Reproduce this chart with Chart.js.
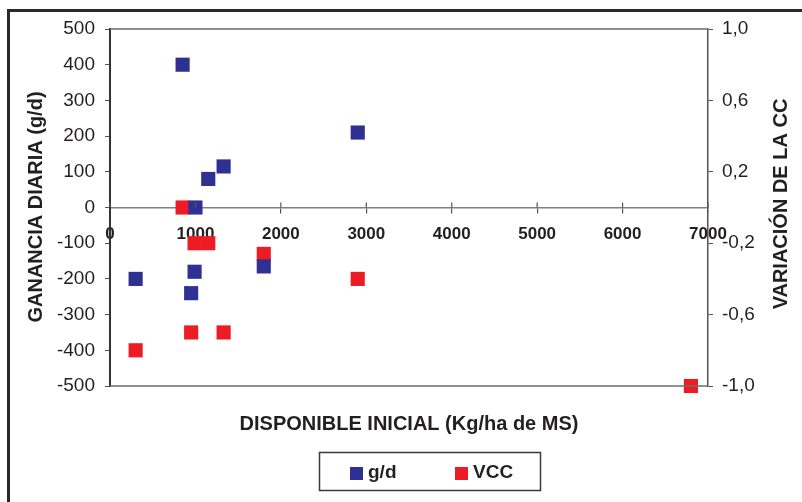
<!DOCTYPE html>
<html>
<head>
<meta charset="utf-8">
<script src="https://cdn.jsdelivr.net/npm/chart.js@4/dist/chart.umd.min.js"></script>
<style>
  html, body { margin: 0; padding: 0; background: #fff; }
  canvas { display: block; }
</style>
</head>
<body>
<canvas id="grafico" width="802" height="502"></canvas>
<script>
// datos: disponible inicial (kg/ha MS) vs ganancia diaria y variación de CC
const gdX = [850, 1000, 1150, 1330, 2900, 300, 990, 950, 1800];
const gdY = [400, 0, 80, 115, 210, -200, -180, -240, -165];
const vccX = [850, 990, 1150, 1800, 2900, 300, 950, 1330, 6800];
const vccY = [0, -0.2, -0.2, -0.26, -0.4, -0.8, -0.7, -0.7, -1.0];
const seriesLabels = ['g/d', 'VCC'];

const AZUL = '#2e3192';
const ROJO = '#ed1c24';
const TEXTO = '#231f20';
const FUENTE = '"Liberation Sans", Arial, sans-serif';

Chart.defaults.font.family = FUENTE;
Chart.defaults.color = TEXTO;

function toPoints(xs, ys) {
    return xs.map((x, i) => ({ x: x, y: ys[i] }));
}

// marco, bordes del área, títulos de ejes y leyenda
const decoraciones = {
    id: 'decoraciones',
    beforeDraw(chart) {
        const ctx = chart.ctx;
        ctx.save();
        ctx.strokeStyle = '#2a2a2a';
        ctx.lineWidth = 3;
        ctx.strokeRect(8.5, 10.5, 900, 600);
        ctx.restore();
    },
    afterDraw(chart) {
        const ctx = chart.ctx;
        const a = chart.chartArea;
        const xs = chart.scales.x;
        const y0 = chart.scales.y.getPixelForValue(0);
        ctx.save();

        // líneas superior e inferior del área
        ctx.strokeStyle = '#6d6d6d';
        ctx.lineWidth = 1.5;
        ctx.beginPath();
        ctx.moveTo(a.left, a.top);
        ctx.lineTo(a.right, a.top);
        ctx.moveTo(a.left, a.bottom);
        ctx.lineTo(a.right, a.bottom);
        ctx.stroke();

        // marcas del eje x hacia arriba
        ctx.strokeStyle = '#555';
        ctx.lineWidth = 1.2;
        ctx.beginPath();
        xs.ticks.forEach(t => {
            const px = xs.getPixelForValue(t.value);
            ctx.moveTo(px, y0);
            ctx.lineTo(px, y0 - 5);
        });
        ctx.stroke();

        // títulos de ejes
        ctx.fillStyle = TEXTO;
        ctx.font = 'bold 20px ' + FUENTE;
        ctx.textAlign = 'center';
        ctx.textBaseline = 'middle';
        ctx.fillText('DISPONIBLE INICIAL (Kg/ha de MS)', 409, 424);

        ctx.save();
        ctx.translate(36, 207);
        ctx.rotate(-Math.PI / 2);
        ctx.fillText('GANANCIA DIARIA (g/d)', 0, 0);
        ctx.restore();

        ctx.save();
        ctx.translate(781, 204);
        ctx.rotate(-Math.PI / 2);
        ctx.fillText('VARIACIÓN DE LA CC', 0, 0);
        ctx.restore();

        // leyenda
        ctx.strokeStyle = '#3a3a3a';
        ctx.lineWidth = 1.5;
        ctx.strokeRect(319.5, 452.5, 221, 38);
        const itemX = [350, 455];
        ctx.font = 'bold 19px ' + FUENTE;
        ctx.textAlign = 'left';
        ctx.textBaseline = 'alphabetic';
        chart.data.datasets.forEach((ds, i) => {
            ctx.fillStyle = ds.backgroundColor;
            ctx.fillRect(itemX[i], 467, 13, 13);
            ctx.fillStyle = TEXTO;
            ctx.fillText(ds.label, itemX[i] + 18, 478);
        });
        ctx.restore();
    }
};

const ctx = document.getElementById('grafico').getContext('2d');
const grafico = new Chart(ctx, {
    type: 'scatter',
    data: {
        datasets: [{
            label: seriesLabels[0],
            data: toPoints(gdX, gdY),
            yAxisID: 'y',
            backgroundColor: AZUL,
            borderColor: AZUL,
            borderWidth: 0,
            pointStyle: 'rect',
            pointRadius: 10,
            pointHoverRadius: 10,
            clip: false
        }, {
            label: seriesLabels[1],
            data: toPoints(vccX, vccY),
            yAxisID: 'y2',
            backgroundColor: ROJO,
            borderColor: ROJO,
            borderWidth: 0,
            pointStyle: 'rect',
            pointRadius: 10,
            pointHoverRadius: 10,
            clip: false
        }]
    },
    options: {
        responsive: false,
        animation: false,
        layout: {
            padding: { top: 29, bottom: 116, left: 0, right: 0 }
        },
        plugins: {
            legend: { display: false },
            tooltip: { enabled: false }
        },
        scales: {
            x: {
                type: 'linear',
                position: { y: 0 },
                min: 0,
                max: 7000,
                ticks: {
                    stepSize: 1000,
                    padding: 12,
                    font: { size: 17, weight: 'bold' },
                    maxRotation: 0,
                    callback: v => String(v)
                },
                grid: {
                    drawOnChartArea: false,
                    tickLength: 5,
                    color: '#555',
                    lineWidth: 1.2
                },
                border: { color: '#808080', width: 1.5 }
            },
            y: {
                position: 'left',
                min: -500,
                max: 500,
                ticks: {
                    stepSize: 100,
                    padding: 10,
                    font: { size: 19 }
                },
                grid: {
                    drawOnChartArea: false,
                    tickLength: 5,
                    color: '#555'
                },
                border: { color: '#333', width: 2 },
                afterFit(scale) { scale.width = 110; }
            },
            y2: {
                position: 'right',
                min: -1,
                max: 1,
                ticks: {
                    stepSize: 0.4,
                    padding: 9,
                    font: { size: 19 },
                    callback: v => Number(v).toFixed(1).replace('.', ',')
                },
                grid: {
                    drawOnChartArea: false,
                    tickLength: 5,
                    color: '#555'
                },
                border: { color: '#555', width: 1.5 },
                afterFit(scale) { scale.width = 94; }
            }
        }
    },
    plugins: [decoraciones]
});
</script>
</body>
</html>
